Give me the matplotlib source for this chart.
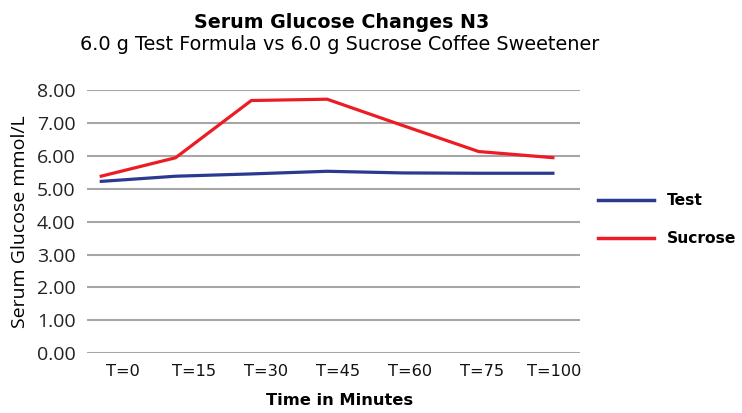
import matplotlib
matplotlib.use("Agg")
import matplotlib.pyplot as plt
import numpy as np
from matplotlib.lines import Line2D

times = ["T=0", "T=15", "T=30", "T=45", "T=60", "T=75", "T=100"]
test = [5.22, 5.38, 5.45, 5.53, 5.48, 5.47, 5.47]
sucrose = [5.37, 5.94, 7.68, 7.72, 6.92, 6.13, 5.94]
yticks = [0, 1, 2, 3, 4, 5, 6, 7, 8]

blue = "#2B3990"
red = "#ED1C24"
grid_c = "#A6A6A6"

fig = plt.figure(figsize=(7.42, 4.13), dpi=100)
ax = fig.add_axes([0.117, 0.1446, 0.665, 0.6375])

x = np.arange(len(times))
ax.plot(x, test, color=blue, lw=2.3, solid_capstyle="butt")
ax.plot(x, sucrose, color=red, lw=2.3, solid_capstyle="butt")

ax.set_xlim(-0.17, 6.34)
ax.set_ylim(0, 8)
ax.set_yticks(yticks)
ax.set_yticklabels(["%.2f" % v for v in yticks], family="Open Sans", fontsize=14, color="#222222")
for v in yticks:
    ax.axhline(v, color=grid_c, lw=1.5, zorder=0)

# category labels sit a bit right of the points, like the original
ax.set_xticks(np.linspace(0.3, 6.0, len(times)))
ax.set_xticklabels(times, fontsize=11.6, color="#111111")
ax.tick_params(length=0, pad=8)
ax.tick_params(axis="y", pad=8)
for s in ax.spines.values():
    s.set_visible(False)

ax.set_ylabel("Serum Glucose mmol/L", family="Open Sans", fontsize=14, labelpad=6)
fig.text(0.458, 0.012, "Time in Minutes", ha="center", va="bottom",
         fontsize=11.7, fontweight="bold")

fig.text(0.461, 0.945, "Serum Glucose Changes N3", ha="center", va="center",
         fontsize=13.7, fontweight="bold")
fig.text(0.458, 0.893, "6.0 g Test Formula vs 6.0 g Sucrose Coffee Sweetener",
         ha="center", va="center", fontsize=13.9)

handles = [Line2D([], [], color=blue, lw=2.5), Line2D([], [], color=red, lw=2.5)]
leg = fig.legend(handles, ["Test", "Sucrose"], loc="center left",
                 bbox_to_anchor=(0.806, 0.468), frameon=False,
                 borderpad=0, borderaxespad=0,
                 handlelength=3.6, handletextpad=0.8, labelspacing=1.45,
                 prop={"weight": "bold", "size": 11.2})

fig.savefig("out.png", dpi=100)
